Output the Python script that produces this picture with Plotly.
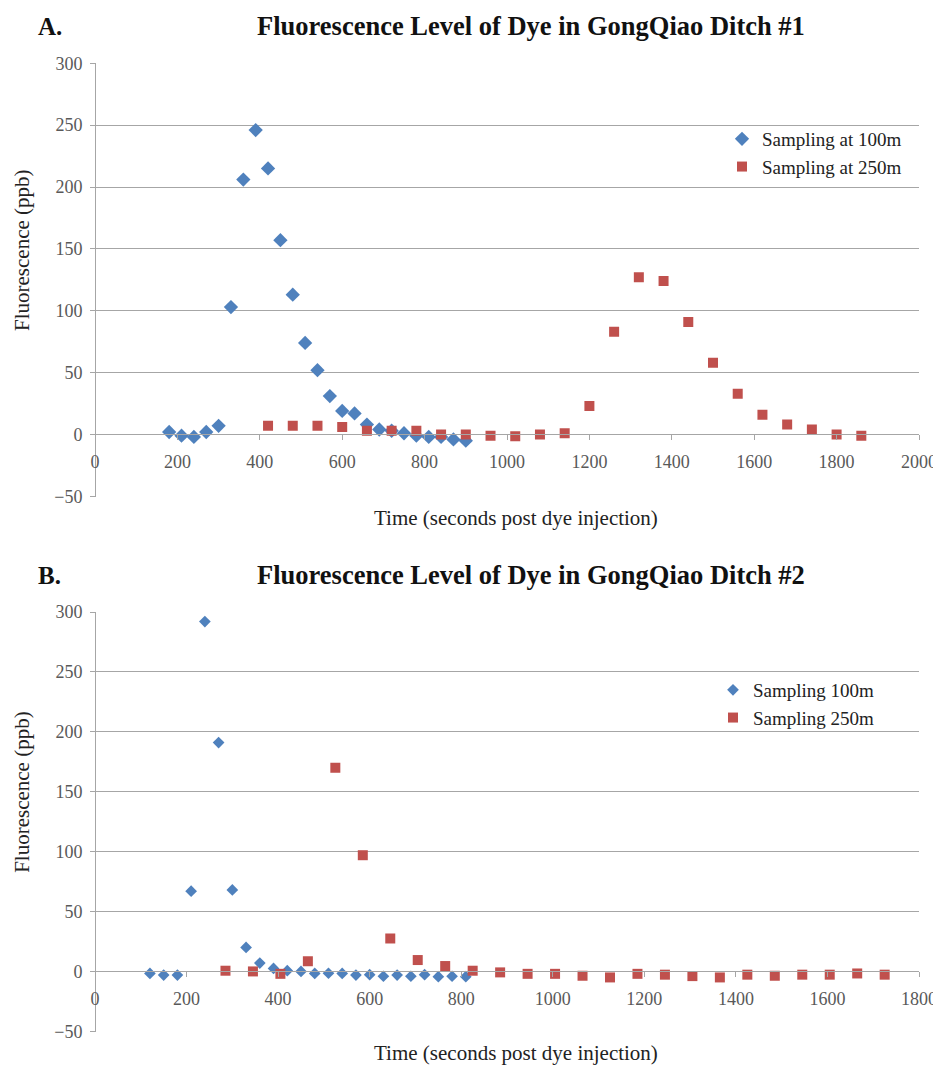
import plotly.graph_objects as go

# ---------- Data ----------
# Chart A: GongQiao Ditch #1
a_time_100 = [180, 210, 240, 270, 300, 330, 360, 390, 420, 450, 480, 510, 540, 570,
              600, 630, 660, 690, 720, 750, 780, 810, 840, 870, 900]
a_fluor_100 = [2, -1, -2, 2, 7, 103, 206, 246, 215, 157, 113, 74, 52, 31,
               19, 17, 8, 4, 3, 1, -1, -2, -2, -4, -5]
a_time_250 = [420, 480, 540, 600, 660, 720, 780, 840, 900, 960, 1020, 1080, 1140,
              1200, 1260, 1320, 1380, 1440, 1500, 1560, 1620, 1680, 1740, 1800, 1860]
a_fluor_250 = [7, 7, 7, 6, 3, 3, 3, 0, 0, -1, -1.5, 0, 1,
               23, 83, 127, 124, 91, 58, 33, 16, 8, 4, 0, -1]

# Chart B: GongQiao Ditch #2
b_time_100 = [120, 150, 180, 210, 240, 270, 300, 330, 360, 390, 420, 450, 480, 510,
              540, 570, 600, 630, 660, 690, 720, 750, 780, 810]
b_fluor_100 = [-1.7, -3, -3, 67, 292, 191, 68, 20, 7, 2.5, 0.6, 0, -1.7, -1.5,
               -1.7, -3, -2.7, -4, -3, -4, -2.7, -4.4, -4, -4.4]
b_time_250 = [285, 345, 405, 465, 525, 585, 645, 705, 765, 825, 885, 945, 1005, 1065,
              1125, 1185, 1245, 1305, 1365, 1425, 1485, 1545, 1605, 1665, 1725]
b_fluor_250 = [0.6, 0, -2, 8.5, 170, 97, 27.5, 9.5, 4.5, 0.6, -0.8, -2, -2, -3.6,
               -5, -2, -2.7, -3.9, -5, -2.7, -3.6, -2.7, -2.7, -1.7, -2.7]

y_ticks = [-50, 0, 50, 100, 150, 200, 250, 300]
a_x_ticks = [0, 200, 400, 600, 800, 1000, 1200, 1400, 1600, 1800, 2000]
b_x_ticks = [0, 200, 400, 600, 800, 1000, 1200, 1400, 1600, 1800]

panel_letters = ["A.", "B."]
titles = ["Fluorescence Level of Dye in GongQiao Ditch #1",
          "Fluorescence Level of Dye in GongQiao Ditch #2"]
a_names = ["Sampling at 100m", "Sampling at 250m"]
b_names = ["Sampling 100m", "Sampling 250m"]
x_title = "Time (seconds post dye injection)"
y_title = "Fluorescence (ppb)"

# ---------- Layout geometry ----------
OFF = 8                      # default page body margin
W, H = 941 - OFF, 1073 - OFF
ML, MR = 95 - OFF, 22
PW = W - ML - MR
BLUE = "#4F81BD"
RED = "#C0504D"
GRID = "#A6A6A6"
SERIF = "Liberation Serif, Times New Roman, serif"
TICKCOL = "#595959"

def px_x(X):
    return (X - OFF - ML) / PW

def px_y(Y):
    return 1 - (Y - OFF) / H

dom_a = [px_y(496.7), px_y(63.3)]
dom_b = [px_y(1031.7), px_y(612)]
y_range = [-50.3, 300]

def zero_pos(dom):
    return dom[0] + (dom[1] - dom[0]) * (0 - y_range[0]) / (y_range[1] - y_range[0])

fig = go.Figure()

fig.add_trace(go.Scatter(x=a_time_100, y=a_fluor_100, mode="markers", name=a_names[0],
                         marker=dict(symbol="diamond", size=11, color=BLUE),
                         xaxis="x", yaxis="y", legend="legend"))
fig.add_trace(go.Scatter(x=a_time_250, y=a_fluor_250, mode="markers", name=a_names[1],
                         marker=dict(symbol="square", size=10, color=RED),
                         xaxis="x", yaxis="y", legend="legend"))
fig.add_trace(go.Scatter(x=b_time_100, y=b_fluor_100, mode="markers", name=b_names[0],
                         marker=dict(symbol="diamond", size=9, color=BLUE),
                         xaxis="x2", yaxis="y2", legend="legend2"))
fig.add_trace(go.Scatter(x=b_time_250, y=b_fluor_250, mode="markers", name=b_names[1],
                         marker=dict(symbol="square", size=10, color=RED),
                         xaxis="x2", yaxis="y2", legend="legend2"))

def xaxis_cfg(rng, ticks, dom):
    return dict(range=rng, tickvals=ticks, anchor="free",
                position=zero_pos(dom), showgrid=False, zeroline=False,
                showline=True, linecolor=GRID, linewidth=1,
                ticks="outside", ticklen=5, tickcolor=GRID,
                ticklabelstandoff=6, automargin=False,
                tickfont=dict(family=SERIF, size=18, color=TICKCOL),
                domain=[0, 1])

def yaxis_cfg(dom):
    return dict(range=y_range, tickvals=y_ticks, domain=dom, anchor="free", position=0,
                showgrid=True, gridcolor=GRID, gridwidth=1,
                zeroline=False, showline=True, linecolor=GRID, linewidth=1,
                ticks="outside", ticklen=5, tickcolor=GRID, ticklabelstandoff=4,
                automargin=False,
                tickfont=dict(family=SERIF, size=18, color=TICKCOL))

annotations = []
for i, (top_px, bot_px) in enumerate([(63.3, 496.7), (612, 1031.7)]):
    annotations.append(dict(text="<b>%s</b>" % panel_letters[i], xref="paper", yref="paper",
                            x=px_x(36), y=px_y(top_px - 37), xanchor="left",
                            yanchor="middle", showarrow=False,
                            font=dict(family=SERIF, size=25, color="#111111")))
    annotations.append(dict(text="<b>%s</b>" % titles[i], xref="paper", yref="paper",
                            x=px_x(531), y=px_y(top_px - 37), xanchor="center",
                            yanchor="middle", showarrow=False,
                            font=dict(family=SERIF, size=26.5, color="#111111")))
    annotations.append(dict(text=x_title, xref="paper", yref="paper",
                            x=px_x(516), y=px_y(bot_px + 21), xanchor="center",
                            yanchor="middle", showarrow=False,
                            font=dict(family=SERIF, size=21, color="#222222")))
    annotations.append(dict(text=y_title, xref="paper", yref="paper", textangle=-90,
                            x=px_x(22), y=px_y((top_px + bot_px) / 2 - 30),
                            xanchor="center", yanchor="middle", showarrow=False,
                            font=dict(family=SERIF, size=21, color="#222222")))

legend_common = dict(xanchor="left", yanchor="top", bgcolor="rgba(0,0,0,0)",
                     font=dict(family=SERIF, size=19, color="#222222"),
                     tracegroupgap=0, itemwidth=30)

fig.update_layout(
    width=W, height=H,
    margin=dict(l=ML, r=MR, t=0, b=0, pad=0),
    paper_bgcolor="white", plot_bgcolor="white",
    xaxis=xaxis_cfg([0, 2000], a_x_ticks, dom_a),
    yaxis=yaxis_cfg(dom_a),
    xaxis2=xaxis_cfg([0, 1800], b_x_ticks, dom_b),
    yaxis2=yaxis_cfg(dom_b),
    annotations=annotations,
    legend=dict(x=px_x(722), y=px_y(120), **legend_common),
    legend2=dict(x=px_x(713), y=px_y(671), **legend_common),
    showlegend=True,
)

fig.write_html("out.html")
